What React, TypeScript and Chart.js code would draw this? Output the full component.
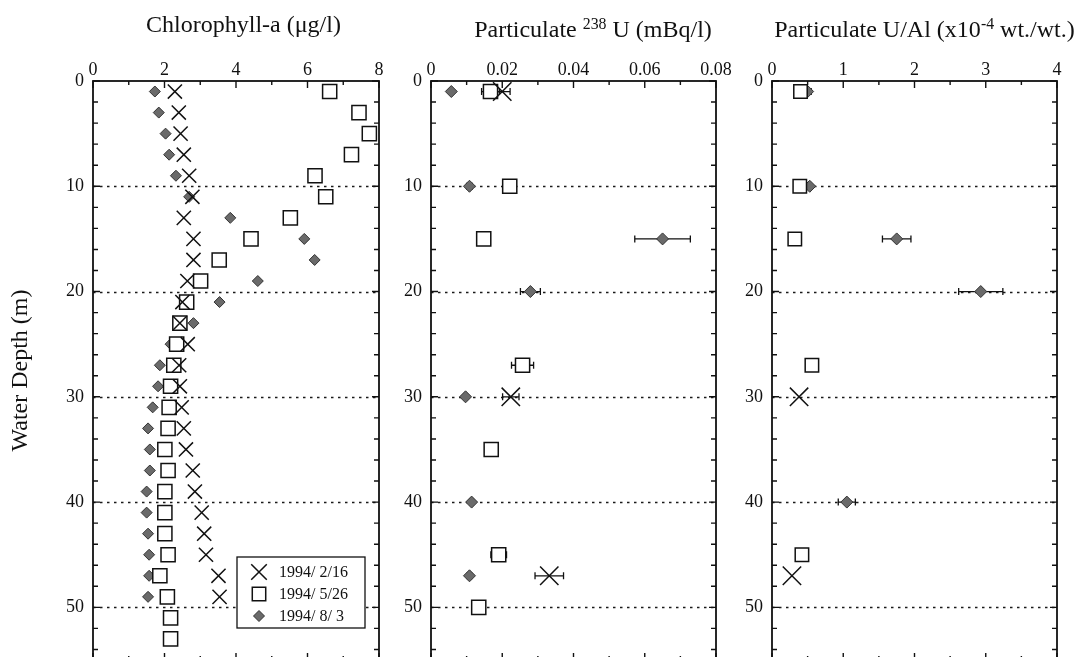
import React, { useEffect, useRef } from 'react';
import { Chart, registerables } from 'chart.js';
import { drawPoint } from 'chart.js/helpers';

Chart.register(...registerables);

const FONT = "'Liberation Serif', 'Times New Roman', Times, serif";
const INK = '#111111';
const DIAMOND_FILL = '#6a6a6a';
const DIAMOND_EDGE = '#333333';

// ---- series labels ----
const seriesLabels = ['1994/ 2/16', '1994/ 5/26', '1994/ 8/ 3'];

// ---- depth axis ----
const depthMax = 55;
const depthGrid = [10, 20, 30, 40, 50];

// ---- Chlorophyll-a (ug/l) ----
const chlDepthFeb = [1, 3, 5, 7, 9, 11, 13, 15, 17, 19, 21, 23, 25, 27, 29, 31, 33, 35, 37, 39, 41, 43, 45, 47, 49];
const chlFeb = [2.29, 2.40, 2.45, 2.54, 2.69, 2.78, 2.54, 2.81, 2.81, 2.64, 2.50, 2.43, 2.65, 2.41, 2.43, 2.48, 2.54, 2.60, 2.79, 2.85, 3.04, 3.11, 3.16, 3.51, 3.54];
const chlDepthMay = [1, 3, 5, 7, 9, 11, 13, 15, 17, 19, 21, 23, 25, 27, 29, 31, 33, 35, 37, 39, 41, 43, 45, 47, 49, 51, 53];
const chlMay = [6.62, 7.44, 7.73, 7.23, 6.21, 6.51, 5.52, 4.42, 3.53, 3.01, 2.62, 2.43, 2.34, 2.26, 2.17, 2.13, 2.10, 2.01, 2.10, 2.01, 2.01, 2.01, 2.10, 1.87, 2.08, 2.17, 2.17];
const chlDepthAug = [1, 3, 5, 7, 9, 11, 13, 15, 17, 19, 21, 23, 25, 27, 29, 31, 33, 35, 37, 39, 41, 43, 45, 47, 49];
const chlAug = [1.73, 1.84, 2.03, 2.13, 2.32, 2.69, 3.84, 5.91, 6.20, 4.61, 3.54, 2.81, 2.17, 1.87, 1.82, 1.67, 1.54, 1.59, 1.59, 1.50, 1.50, 1.54, 1.57, 1.57, 1.54];

// ---- Particulate 238U (mBq/l) ----
const uDepthFeb = [1, 30, 47];
const uFeb = [0.0200, 0.0224, 0.0332];
const uFebErr = [0.0022, 0.0023, 0.0040];
const uDepthMay = [1, 10, 15, 27, 35, 45, 50];
const uMay = [0.0167, 0.0221, 0.0148, 0.0257, 0.0169, 0.0190, 0.0134];
const uMayErr = [0.0025, 0.0015, 0.0005, 0.0031, 0.0018, 0.0022, 0.0015];
const uDepthAug = [1, 10, 15, 20, 30, 40, 47];
const uAug = [0.0057, 0.0108, 0.0650, 0.0279, 0.0097, 0.0114, 0.0108];
const uAugErr = [0.0, 0.0008, 0.0078, 0.0028, 0.0005, 0.0005, 0.0006];

// ---- Particulate U/Al (x10^-4 wt./wt.) ----
const ualDepthFeb = [30, 47];
const ualFeb = [0.38, 0.28];
const ualFebErr = [0, 0];
const ualDepthMay = [1, 10, 15, 27, 45];
const ualMay = [0.40, 0.39, 0.32, 0.56, 0.42];
const ualMayErr = [0.075, 0.05, 0, 0, 0];
const ualDepthAug = [1, 10, 15, 20, 40];
const ualAug = [0.50, 0.53, 1.75, 2.93, 1.05];
const ualAugErr = [0.05, 0, 0.20, 0.31, 0.12];

Chart.defaults.font.family = FONT;
Chart.defaults.color = INK;

function pts(xs: number[], ys: number[]) {
  return xs.map((x, i) => ({ x, y: ys[i] }));
}

function makeDatasets(
  febX: number[], febY: number[], febE: number[] | null,
  mayX: number[], mayY: number[], mayE: number[] | null,
  augX: number[], augY: number[], augE: number[] | null,
  sizes: { cross: number; rect: number; diamond: number }
) {
  return [
    {
      label: seriesLabels[0],
      data: pts(febX, febY),
      xErr: febE,
      pointStyle: 'crossRot',
      pointRadius: sizes.cross,
      pointHoverRadius: sizes.cross,
      borderColor: INK,
      backgroundColor: INK,
      borderWidth: 1.5,
    },
    {
      label: seriesLabels[1],
      data: pts(mayX, mayY),
      xErr: mayE,
      pointStyle: 'rect',
      pointRadius: sizes.rect,
      pointHoverRadius: sizes.rect,
      borderColor: INK,
      backgroundColor: '#ffffff',
      borderWidth: 1.5,
    },
    {
      label: seriesLabels[2],
      data: pts(augX, augY),
      xErr: augE,
      pointStyle: 'rectRot',
      pointRadius: sizes.diamond,
      pointHoverRadius: sizes.diamond,
      borderColor: DIAMOND_EDGE,
      backgroundColor: DIAMOND_FILL,
      borderWidth: 1,
    },
  ];
}

const framePlugin = {
  id: 'frame',
  beforeDatasetsDraw(chart: any, _args: any, opts: any) {
    const { ctx, chartArea: a } = chart;
    const xs = chart.scales.x;
    const ys = chart.scales.y;
    ctx.save();
    // dotted depth gridlines
    ctx.strokeStyle = '#1a1a1a';
    ctx.lineWidth = 1.6;
    ctx.setLineDash([2.5, 4.5]);
    for (const v of depthGrid) {
      const y = Math.round(ys.getPixelForValue(v)) + 0.5;
      ctx.beginPath();
      ctx.moveTo(a.left, y);
      ctx.lineTo(a.right, y);
      ctx.stroke();
    }
    ctx.setLineDash([]);
    ctx.strokeStyle = INK;
    ctx.lineWidth = 1.4;
    // x ticks (inward, top and bottom)
    const nx = Math.round(xs.max / opts.xMinor);
    for (let i = 0; i <= nx; i++) {
      const v = i * opts.xMinor;
      const r = v / opts.xMajor;
      const major = Math.abs(r - Math.round(r)) < 1e-6;
      const len = major ? 7 : 4;
      const x = xs.getPixelForValue(v);
      ctx.beginPath();
      ctx.moveTo(x, a.top);
      ctx.lineTo(x, a.top + len);
      ctx.moveTo(x, a.bottom);
      ctx.lineTo(x, a.bottom - len);
      ctx.stroke();
    }
    // y ticks (inward, left and right)
    const ny = Math.round(ys.max / 2);
    for (let i = 0; i <= ny; i++) {
      const v = i * 2;
      const major = v % 10 === 0;
      const len = major ? 7 : 5;
      const y = ys.getPixelForValue(v);
      ctx.beginPath();
      ctx.moveTo(a.left, y);
      ctx.lineTo(a.left + len, y);
      ctx.moveTo(a.right, y);
      ctx.lineTo(a.right - len, y);
      ctx.stroke();
    }
    // frame
    ctx.lineWidth = 1.8;
    ctx.strokeRect(a.left, a.top, a.right - a.left, a.bottom - a.top);
    ctx.restore();
  },
};

const errorBarPlugin = {
  id: 'errorBars',
  beforeDatasetsDraw(chart: any) {
    const { ctx } = chart;
    const xs = chart.scales.x;
    const ys = chart.scales.y;
    ctx.save();
    ctx.strokeStyle = INK;
    ctx.lineWidth = 1.3;
    chart.data.datasets.forEach((ds: any) => {
      if (!ds.xErr) return;
      ds.data.forEach((p: any, i: number) => {
        const e = ds.xErr[i];
        if (!e) return;
        const x0 = xs.getPixelForValue(p.x - e);
        const x1 = xs.getPixelForValue(p.x + e);
        const y = ys.getPixelForValue(p.y);
        ctx.beginPath();
        ctx.moveTo(x0, y);
        ctx.lineTo(x1, y);
        ctx.moveTo(x0, y - 3.5);
        ctx.lineTo(x0, y + 3.5);
        ctx.moveTo(x1, y - 3.5);
        ctx.lineTo(x1, y + 3.5);
        ctx.stroke();
      });
    });
    ctx.restore();
  },
};

const legendBoxPlugin = {
  id: 'legendBox',
  afterDatasetsDraw(chart: any, _args: any, opts: any) {
    if (!opts || !opts.show) return;
    const { ctx } = chart;
    ctx.save();
    ctx.fillStyle = '#ffffff';
    ctx.fillRect(opts.x, opts.y, opts.w, opts.h);
    ctx.strokeStyle = INK;
    ctx.lineWidth = 1.3;
    ctx.strokeRect(opts.x, opts.y, opts.w, opts.h);
    const radii = [11, 9.5, 5.5];
    chart.data.datasets.forEach((ds: any, i: number) => {
      const cy = opts.y + opts.firstRow + i * opts.rowH;
      const cx = opts.x + opts.markerDx;
      ctx.fillStyle = ds.backgroundColor;
      ctx.strokeStyle = ds.borderColor;
      ctx.lineWidth = ds.borderWidth;
      drawPoint(ctx, { pointStyle: ds.pointStyle, radius: radii[i], rotation: 0, borderWidth: ds.borderWidth } as any, cx, cy);
      ctx.fillStyle = INK;
      ctx.font = `16px ${FONT}`;
      ctx.textBaseline = 'middle';
      ctx.textAlign = 'left';
      ctx.fillText(ds.label, opts.x + opts.textDx, cy + 1);
    });
    ctx.restore();
  },
};

type PanelOpts = {
  datasets: any[];
  xMax: number;
  xStep: number;
  xMinor: number;
  decimals: number;
  yWidth: number;
  padRight: number;
  yTitle?: string;
  legend?: any;
};

function makeConfig(p: PanelOpts): any {
  return {
    type: 'scatter',
    data: { datasets: p.datasets },
    options: {
      responsive: false,
      maintainAspectRatio: false,
      animation: false,
      events: [],
      layout: { padding: { left: 0, right: p.padRight, top: 0, bottom: 40 } },
      scales: {
        x: {
          type: 'linear',
          position: 'top',
          min: 0,
          max: p.xMax,
          grid: { display: false, drawTicks: false },
          border: { display: false },
          ticks: {
            stepSize: p.xStep,
            autoSkip: false,
            maxRotation: 0,
            padding: 0,
            color: INK,
            font: { family: FONT, size: 18 },
            callback: (v: any) => Number(Number(v).toFixed(p.decimals)).toString(),
          },
          afterFit: (s: any) => {
            s.height = 81;
          },
        },
        y: {
          type: 'linear',
          position: 'left',
          reverse: true,
          min: 0,
          max: depthMax,
          grid: { display: false, drawTicks: false },
          border: { display: false },
          ticks: {
            stepSize: 10,
            autoSkip: false,
            padding: 9,
            color: INK,
            font: { family: FONT, size: 18 },
            callback: (v: any) => (Number(v) % 10 === 0 ? String(v) : ''),
          },
          title: p.yTitle
            ? {
                display: true,
                text: p.yTitle,
                color: INK,
                font: { family: FONT, size: 24 },
                padding: { top: 6, bottom: 0 },
              }
            : { display: false },
          afterFit: (s: any) => {
            s.width = p.yWidth;
          },
        },
      },
      plugins: {
        legend: { display: false },
        tooltip: { enabled: false },
        frame: { xMinor: p.xMinor, xMajor: p.xStep },
        legendBox: p.legend || { show: false },
      },
    },
    plugins: [framePlugin, errorBarPlugin, legendBoxPlugin],
  };
}

const titleStyle = (cx: number, top: number): React.CSSProperties => ({
  position: 'absolute',
  left: cx - 250,
  width: 500,
  top,
  textAlign: 'center',
  whiteSpace: 'nowrap',
  fontFamily: FONT,
  fontSize: 24,
  lineHeight: '24px',
  color: INK,
});

const supStyle: React.CSSProperties = {
  fontSize: '0.66em',
  verticalAlign: 'baseline',
  position: 'relative',
  top: '-0.48em',
};

export default function App() {
  const c1 = useRef<HTMLCanvasElement>(null);
  const c2 = useRef<HTMLCanvasElement>(null);
  const c3 = useRef<HTMLCanvasElement>(null);

  useEffect(() => {
    const charts: Chart[] = [];
    charts.push(
      new Chart(
        c1.current!,
        makeConfig({
          datasets: makeDatasets(
            chlFeb, chlDepthFeb, null,
            chlMay, chlDepthMay, null,
            chlAug, chlDepthAug, null,
            { cross: 10, rect: 10, diamond: 5.5 }
          ),
          xMax: 8,
          xStep: 2,
          xMinor: 1,
          decimals: 0,
          yWidth: 93,
          padRight: 16,
          yTitle: 'Water Depth (m)',
          legend: { show: true, x: 237, y: 557, w: 128, h: 71, firstRow: 15, rowH: 22, markerDx: 22, textDx: 42 },
        })
      )
    );
    charts.push(
      new Chart(
        c2.current!,
        makeConfig({
          datasets: makeDatasets(
            uFeb, uDepthFeb, uFebErr,
            uMay, uDepthMay, uMayErr,
            uAug, uDepthAug, uAugErr,
            { cross: 13, rect: 10, diamond: 6 }
          ),
          xMax: 0.08,
          xStep: 0.02,
          xMinor: 0.01,
          decimals: 2,
          yWidth: 31,
          padRight: 24,
        })
      )
    );
    charts.push(
      new Chart(
        c3.current!,
        makeConfig({
          datasets: makeDatasets(
            ualFeb, ualDepthFeb, ualFebErr,
            ualMay, ualDepthMay, ualMayErr,
            ualAug, ualDepthAug, ualAugErr,
            { cross: 13, rect: 9.5, diamond: 6 }
          ),
          xMax: 4,
          xStep: 1,
          xMinor: 0.5,
          decimals: 0,
          yWidth: 32,
          padRight: 23,
        })
      )
    );
    return () => charts.forEach((c) => c.destroy());
  }, []);

  return (
    <div
      style={{
        position: 'fixed',
        left: 0,
        top: 0,
        width: 1080,
        height: 657,
        overflow: 'hidden',
        background: '#ffffff',
      }}
    >
      <canvas ref={c1} width={395} height={700} style={{ position: 'absolute', left: 0, top: 0 }} />
      <canvas ref={c2} width={340} height={700} style={{ position: 'absolute', left: 400, top: 0 }} />
      <canvas ref={c3} width={340} height={700} style={{ position: 'absolute', left: 740, top: 0 }} />
      <div style={titleStyle(243.5, 12)}>Chlorophyll-a (μg/l)</div>
      <div style={titleStyle(593, 17)}>
        Particulate <span style={supStyle}>238</span> U (mBq/l)
      </div>
      <div style={titleStyle(924.5, 17)}>
        Particulate U/Al (x10<span style={supStyle}>-4</span> wt./wt.)
      </div>
    </div>
  );
}
